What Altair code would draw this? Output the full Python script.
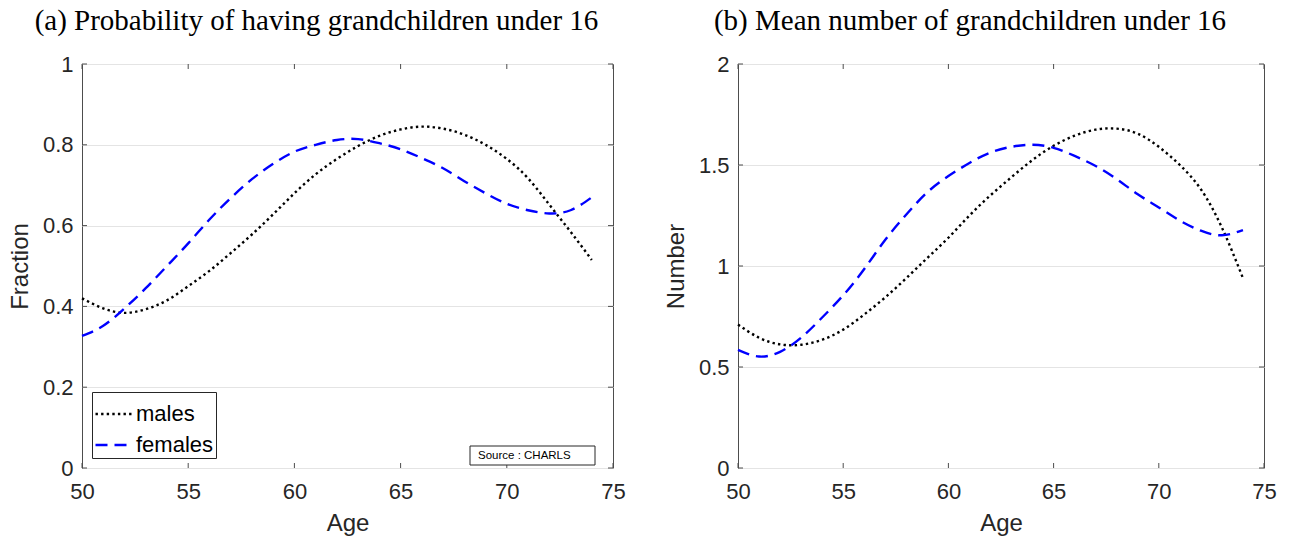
import altair as alt
import pandas as pd

ages = list(range(50, 75))
males_frac = [0.42, 0.395, 0.384, 0.393, 0.415, 0.45, 0.488, 0.532, 0.578, 0.628, 0.68, 0.727,
              0.765, 0.797, 0.822, 0.838, 0.845, 0.84, 0.825, 0.80, 0.765, 0.717, 0.652, 0.585, 0.515]
females_frac = [0.327, 0.352, 0.395, 0.445, 0.50, 0.556, 0.615, 0.668, 0.715, 0.753, 0.783, 0.80,
                0.812, 0.814, 0.804, 0.789, 0.767, 0.742, 0.71, 0.68, 0.654, 0.638, 0.63, 0.638, 0.67]
males_num = [0.71, 0.645, 0.612, 0.61, 0.635, 0.685, 0.76, 0.845, 0.94, 1.04, 1.14, 1.25,
             1.35, 1.44, 1.525, 1.595, 1.645, 1.675, 1.68, 1.655, 1.59, 1.50, 1.38, 1.19, 0.94]
females_num = [0.585, 0.552, 0.575, 0.645, 0.745, 0.855, 0.985, 1.13, 1.255, 1.365, 1.445, 1.51,
               1.562, 1.59, 1.60, 1.585, 1.545, 1.495, 1.43, 1.355, 1.29, 1.225, 1.175, 1.152, 1.178]

series = ["males", "females"]
x_ticks = [50, 55, 60, 65, 70, 75]
y_ticks_a = [0, 0.2, 0.4, 0.6, 0.8, 1]
y_ticks_b = [0, 0.5, 1, 1.5, 2]
titles = ["(a) Probability of having grandchildren under 16", "(b) Mean number of grandchildren under 16"]
y_titles = ["Fraction", "Number"]
source_text = ["Source : CHARLS"]

W_A, W_B, H = 531, 526, 404
AXC = "#262626"
BOX = "#4d4d4d"
SANS = "Liberation Sans"
SERIF = "Liberation Serif"


def long_df(m, f):
    return pd.DataFrame({
        "age": ages * 2,
        "value": m + f,
        "group": ["males"] * len(ages) + ["females"] * len(ages),
    })


def panel(m, f, yt, ymax, title, ytitle, width, with_legend):
    df = long_df(m, f)
    xs = alt.Scale(domain=[50, 75], nice=False)
    ys = alt.Scale(domain=[0, ymax], nice=False)
    legend = alt.Legend(
        title=None, orient="bottom-left", offset=10, symbolType="stroke",
        symbolStrokeWidth=2.4, symbolSize=1369, labelFont=SANS, labelFontSize=22,
        labelColor="#000000", strokeColor="#262626", fillColor="white",
        padding=2, labelOffset=2, rowPadding=-8,
    ) if with_legend else None
    lines = alt.Chart(df).mark_line(strokeWidth=2.4, interpolate="natural", strokeCap="butt").encode(
        x=alt.X("age:Q", scale=xs, title="Age",
                axis=alt.Axis(values=x_ticks, grid=False, ticks=False, domain=False,
                              labelFlush=False, labelPadding=13, titlePadding=9)),
        y=alt.Y("value:Q", scale=ys, title=ytitle,
                axis=alt.Axis(values=yt, format="~g", grid=True, gridColor="#e4e4e4",
                              ticks=False, domain=False, labelFlush=False,
                              labelPadding=9, titlePadding=10)),
        color=alt.Color("group:N", scale=alt.Scale(domain=series, range=["#000000", "#0000ff"]),
                        legend=legend),
        strokeDash=alt.StrokeDash("group:N", scale=alt.Scale(domain=series, range=[[2.4, 3.2], [12, 7]]),
                                  legend=legend),
    )
    xt = pd.DataFrame({"t": x_ticks})
    ytd = pd.DataFrame({"t": yt})
    tb = alt.Chart(xt).mark_rule(color=BOX, strokeWidth=1).encode(
        x=alt.X("t:Q", scale=xs), y=alt.value(H), y2=alt.value(H - 5))
    tt = alt.Chart(xt).mark_rule(color=BOX, strokeWidth=1).encode(
        x=alt.X("t:Q", scale=xs), y=alt.value(0), y2=alt.value(5))
    tl = alt.Chart(ytd).mark_rule(color=BOX, strokeWidth=1).encode(
        y=alt.Y("t:Q", scale=ys), x=alt.value(0), x2=alt.value(5))
    tr = alt.Chart(ytd).mark_rule(color=BOX, strokeWidth=1).encode(
        y=alt.Y("t:Q", scale=ys), x=alt.value(width - 5), x2=alt.value(width))
    layers = [lines, tb, tt, tl, tr]
    if with_legend:
        sd = pd.DataFrame({"label": source_text})
        rect = alt.Chart(sd).mark_rect(fill="white", stroke="#262626", strokeWidth=1).encode(
            x=alt.value(388), x2=alt.value(513), y=alt.value(382), y2=alt.value(401))
        txt = alt.Chart(sd).mark_text(font=SANS, fontSize=11.5, align="left", baseline="middle",
                                      color="#000000").encode(
            x=alt.value(396), y=alt.value(392), text="label:N")
        layers += [rect, txt]
    return alt.layer(*layers).properties(
        width=width, height=H,
        title=alt.TitleParams(title, font=SERIF, fontSize=29, fontWeight="normal",
                              color="#000000", anchor="middle", dx=-31, offset=17),
    )


left = panel(males_frac, females_frac, y_ticks_a, 1, titles[0], y_titles[0], W_A, True)
right = panel(males_num, females_num, y_ticks_b, 2, titles[1], y_titles[1], W_B, False)

chart = alt.hconcat(left, right, spacing=125, bounds="flush").resolve_scale(
    color="independent", strokeDash="independent"
).resolve_legend(color="independent", strokeDash="independent").properties(
    padding={"left": 7, "top": 6, "right": 5, "bottom": 5},
    background="white",
).configure_view(stroke=BOX, strokeWidth=1).configure_axis(
    labelFont=SANS, labelFontSize=22, labelColor=AXC,
    titleFont=SANS, titleFontSize=24, titleFontWeight="normal", titleColor=AXC,
)

chart.save("out.html", embed_options={"renderer": "svg", "actions": False})
